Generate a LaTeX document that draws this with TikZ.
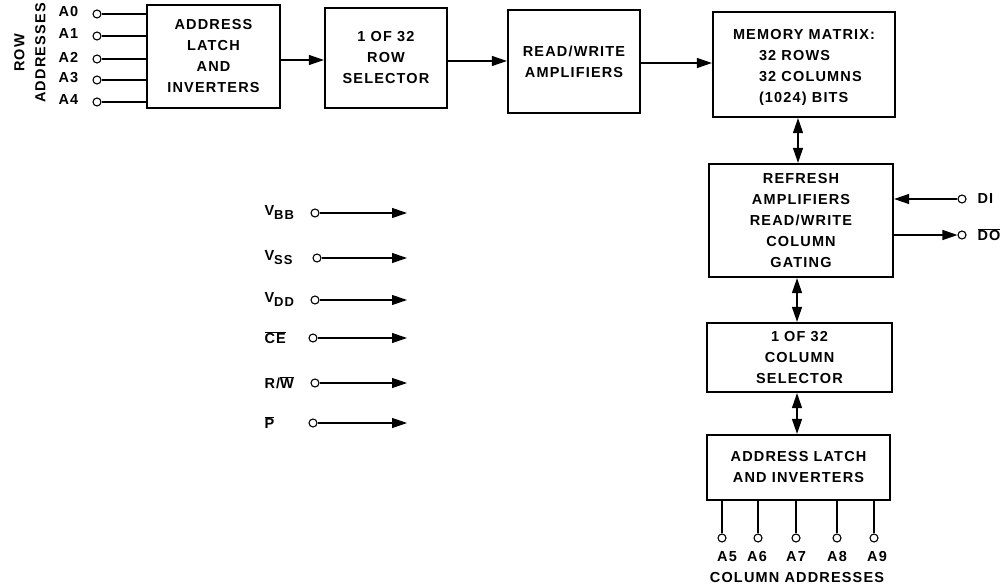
\documentclass[tikz,border=0pt]{standalone}
\usepackage{fontspec}
\setmainfont{Liberation Sans}[LetterSpace=8]
\usetikzlibrary{arrows.meta,calc}
\newcommand\ovl[1]{$\overline{\mbox{#1}}$}
\newcommand\vsub[1]{V\raisebox{-4pt}{\fontsize{13}{13}\selectfont #1}}
\begin{document}
\begin{tikzpicture}[x=1pt,y=-1pt,
  txt/.style={font=\bfseries\fontsize{14.5}{21}\selectfont},
  blk/.style={draw,line width=2.2pt,txt,align=center,inner sep=0pt},
  pin/.style={circle,draw,line width=1.1pt,inner sep=0pt,minimum size=8pt,fill=white},
  wire/.style={line width=1.2pt},
  arr/.style={wire,-{Triangle[length=15pt,width=10pt]}},
  darr/.style={wire,{Triangle[length=15pt,width=10pt]}-{Triangle[length=15pt,width=10pt]}}]
\useasboundingbox (0,0) rectangle (1008,588);
% blocks
\node[blk,minimum width=133pt,minimum height=103pt] (rl) at (213.5,56.5) {ADDRESS\\LATCH\\AND\\INVERTERS};
\node[blk,minimum width=122pt,minimum height=100pt] (rs) at (386,58) {1 OF 32\\ROW\\SELECTOR};
\node[blk,minimum width=132pt,minimum height=103pt] (rw) at (574,61.5) {READ/WRITE\\AMPLIFIERS};
\node[blk,minimum width=182pt,minimum height=105pt,align=left] (mm) at (804,64.5) {\rule{0pt}{16pt}MEMORY MATRIX:\\\hspace*{26pt}32 ROWS\\\hspace*{26pt}32 COLUMNS\\\hspace*{26pt}(1024) BITS};
\node[blk,minimum width=184pt,minimum height=113pt] (rf) at (801,220.5) {REFRESH\\AMPLIFIERS\\READ/WRITE\\COLUMN\\GATING};
\node[blk,minimum width=185pt,minimum height=69pt] (cs) at (799.5,357.5) {1 OF 32\\COLUMN\\SELECTOR};
\node[blk,minimum width=183pt,minimum height=65pt] (cl) at (798.5,467.5) {ADDRESS LATCH\\AND INVERTERS};
% main connectors
\draw[arr] (rl.east |- 0,60) -- (rs.west |- 0,60);
\draw[arr] (rs.east |- 0,61) -- (rw.west |- 0,61);
\draw[arr] (rw.east |- 0,63) -- (mm.west |- 0,63);
\draw[darr] (mm.south -| 798,0) -- (rf.north -| 798,0);
\draw[darr] (rf.south -| 797,0) -- (cs.north -| 797,0);
\draw[darr] (cs.south -| 797,0) -- (cl.north -| 797,0);
% row address inputs
\node[txt,rotate=90,align=center] (rowlab) at (30,53) {ROW\\ADDRESSES};
\foreach \n/\y in {0/14,1/36,2/59,3/80,4/102}{
  \node[txt,anchor=west] (la\n) at (55,\y-2) {A\n};
  \node[pin] (pa\n) at (97,\y) {};
  \draw[wire] (pa\n) -- (rl.west |- pa\n);
}
% DI / DO
\node[pin] (pdi) at (962,199) {};
\node[txt,anchor=west] (ldi) at (974,199) {DI};
\draw[arr] (pdi) -- (rf.east |- pdi);
\node[pin] (pdo) at (962,235) {};
\node[txt,anchor=west] (ldo) at (974,235) {\ovl{DO}};
\draw[arr] (rf.east |- pdo) -- (pdo);
% column address inputs
\foreach \n/\x in {5/722,6/758,7/796,8/837,9/874}{
  \node[pin] (pa\n) at (\x,538) {};
  \draw[wire] (cl.south -| pa\n) -- (pa\n);
}
\node[txt] (la5) at (727,557) {A5};
\node[txt] (la6) at (757,557) {A6};
\node[txt] (la7) at (796,557) {A7};
\node[txt] (la8) at (837,557) {A8};
\node[txt] (la9) at (877,557) {A9};
\node[txt] (coladdr) at (797,578) {COLUMN ADDRESSES};
% power / control inputs
\foreach \k/\y/\xc/\lab in {bb/213/315/{\vsub{BB}},ss/258/317/{\vsub{SS}},dd/300/315/{\vsub{DD}},ce/338/313/{\ovl{CE}},rwn/383/315/{R/\ovl{W}},p/423/313/{\ovl{P}}}{
  \node[txt,anchor=west] (l\k) at (261,\y) {\lab};
  \node[pin] (p\k) at (\xc,\y) {};
  \coordinate (e\k) at (407,\y);
  \draw[arr] (p\k) -- (e\k);
}
\end{tikzpicture}
\end{document}
